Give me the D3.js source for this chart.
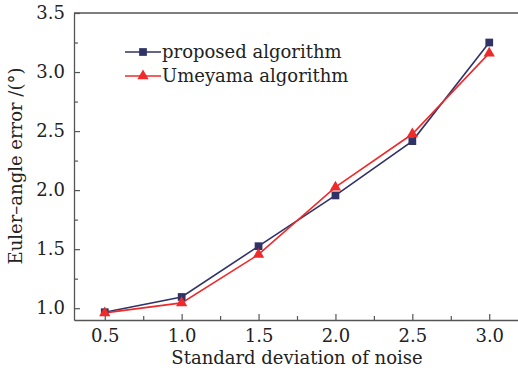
<!DOCTYPE html>
<html>
<head>
<meta charset="utf-8">
<script src="https://cdn.jsdelivr.net/npm/d3@7"></script>
<style>
  body { margin: 0; background: #fff; }
  svg text { font-family: "DejaVu Serif", "Liberation Serif", serif; fill: #222; }
</style>
</head>
<body>
<div id="chart"></div>
<script>
// data
var noise = [0.5, 1.0, 1.5, 2.0, 2.5, 3.0];
var proposed = [0.966, 1.095, 1.525, 1.955, 2.415, 3.25];
var umeyama = [0.96, 1.045, 1.455, 2.025, 2.475, 3.16];
var xTicks = [0.5, 1.0, 1.5, 2.0, 2.5, 3.0];
var yTicks = [1.0, 1.5, 2.0, 2.5, 3.0, 3.5];
var seriesNames = ["proposed algorithm", "Umeyama algorithm"];

var width = 518, height = 375;
var navy = "#2f3366", red = "#ee2a2a", axisCol = "#555";

var svg = d3.select('#chart').append('svg')
  .attr('width', width)
  .attr('height', height);

var x = d3.scaleLinear().domain([0.3, 3.2]).range([74, 520]);
var y = d3.scaleLinear().domain([0.9, 3.5]).range([320, 13]);

// frame (right side runs past the window)
svg.append('line').attr('x1', x(0.3)).attr('x2', width).attr('y1', y(3.5)).attr('y2', y(3.5))
  .attr('stroke', axisCol).attr('stroke-width', 1.3);

var xAxis = svg.append('g')
  .attr('transform', 'translate(0,' + y(0.9) + ')')
  .call(d3.axisBottom(x).tickValues(xTicks).tickSizeInner(-6).tickSizeOuter(0)
    .tickPadding(9).tickFormat(d3.format('.1f')));

var xMinor = svg.append('g')
  .attr('transform', 'translate(0,' + y(0.9) + ')')
  .call(d3.axisBottom(x).tickValues([0.75, 1.25, 1.75, 2.25, 2.75]).tickSize(-4).tickFormat(''));

var yAxis = svg.append('g')
  .attr('transform', 'translate(' + x(0.3) + ',0)')
  .call(d3.axisLeft(y).tickValues(yTicks).tickSizeInner(-6).tickSizeOuter(0)
    .tickPadding(9).tickFormat(d3.format('.1f')));

var yMinor = svg.append('g')
  .attr('transform', 'translate(' + x(0.3) + ',0)')
  .call(d3.axisLeft(y).tickValues([1.25, 1.75, 2.25, 2.75, 3.25]).tickSize(-4).tickFormat(''));

[xAxis, xMinor, yAxis, yMinor].forEach(function(g) {
  g.select('.domain').attr('stroke', axisCol).attr('stroke-width', 1.3);
  g.selectAll('.tick line').attr('stroke', axisCol).attr('stroke-width', 1.2);
  g.selectAll('.tick text').style('font-size', '18px').attr('fill', '#222');
});
xMinor.select('.domain').remove();
yMinor.select('.domain').remove();

// axis titles
svg.append('text')
  .attr('x', 297).attr('y', 364)
  .attr('text-anchor', 'middle')
  .style('font-size', '18px')
  .text('Standard deviation of noise');

svg.append('text')
  .attr('transform', 'translate(22,166) rotate(-90)')
  .attr('text-anchor', 'middle')
  .style('font-size', '18px')
  .text('Euler\u2013angle error /(\u00b0)');

// lines
var line = d3.line()
  .x(function(d, i) { return x(noise[i]); })
  .y(function(d) { return y(d); });

svg.append('path').datum(proposed)
  .attr('d', line).attr('fill', 'none').attr('stroke', navy).attr('stroke-width', 1.6);
svg.append('path').datum(umeyama)
  .attr('d', line).attr('fill', 'none').attr('stroke', red).attr('stroke-width', 1.6);

var sq = d3.symbol().type(d3.symbolSquare).size(60);
var tri = d3.symbol().type(d3.symbolTriangle).size(55);

svg.selectAll('.sq').data(proposed).enter().append('path')
  .attr('class', 'sq')
  .attr('d', sq)
  .attr('transform', function(d, i) { return 'translate(' + x(noise[i]) + ',' + y(d) + ')'; })
  .attr('fill', navy);

svg.selectAll('.tri').data(umeyama).enter().append('path')
  .attr('class', 'tri')
  .attr('d', tri)
  .attr('transform', function(d, i) { return 'translate(' + x(noise[i]) + ',' + y(d) + ')'; })
  .attr('fill', red);

// legend
var legend = svg.append('g');
var legendItems = [
  { name: seriesNames[0], color: navy, sym: sq, y: 52 },
  { name: seriesNames[1], color: red, sym: tri, y: 76 }
];
legendItems.forEach(function(it) {
  legend.append('line').attr('x1', 125).attr('x2', 161).attr('y1', it.y).attr('y2', it.y)
    .attr('stroke', it.color).attr('stroke-width', 1.6);
  legend.append('path').attr('d', it.sym).attr('fill', it.color)
    .attr('transform', 'translate(143,' + it.y + ')');
  legend.append('text').attr('x', 162).attr('y', it.y + 6)
    .style('font-size', '18px').text(it.name);
});
</script>
</body>
</html>
